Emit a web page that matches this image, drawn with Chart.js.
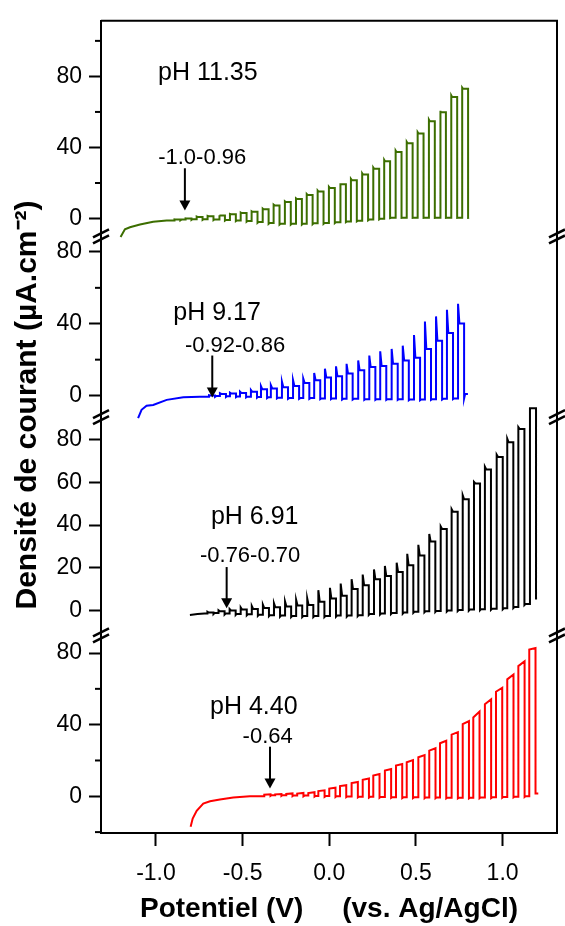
<!DOCTYPE html>
<html>
<head>
<meta charset="utf-8">
<script src="https://cdn.jsdelivr.net/npm/chart.js@4"></script>
<style>
  html, body { margin: 0; padding: 0; background: #fff; }
  canvas { display: block; }
</style>
</head>
<body>
<canvas id="myChart" width="565" height="926"></canvas>
<script>
// chopped-light LSV, potential in V vs Ag/AgCl, current density in uA/cm2
// each trace: dark part first, then one entry per light pulse
// (on = potential where light goes on, peak = spike, plat = value before light off,
//  dip = value right after light off, base = dark value before next pulse)

// pH 11.35
const g_pre_E = [-1.204, -1.179, -1.150, -1.092, -1.016, -0.938];
const g_pre_I = [-10.4, -6.1, -4.9, -3.4, -1.8, -1.1];
const g_on   = [-0.893, -0.829, -0.765, -0.702, -0.636, -0.573, -0.511, -0.448, -0.384, -0.321, -0.256, -0.192, -0.130, -0.067, -0.002, 0.062, 0.125, 0.190, 0.254, 0.317, 0.383, 0.447, 0.510, 0.575, 0.639, 0.704, 0.767];
const g_peak = [-0.5, 0.1, 1.1, 1.5, 1.9, 2.6, 3.4, 4.1, 5.6, 7.8, 9.7, 11.4, 13.8, 15.8, 17.8, 19.9, 22.3, 25.5, 28.7, 33.0, 38.2, 43.2, 48.6, 55.7, 60.7, 69.3, 73.7];
const g_plat = [-0.6, 0.0, 0.9, 1.3, 1.7, 2.4, 3.1, 3.8, 5.2, 7.4, 9.3, 11.0, 13.3, 15.2, 17.2, 19.3, 21.6, 24.8, 28.0, 32.2, 37.4, 42.4, 47.8, 54.8, 59.8, 68.4, 73.0];
const g_dip  = [-1.0, -0.8, -0.8, -0.9, -1.2, -1.5, -1.8, -2.4, -3.0, -3.4, -3.4, -3.4, -3.2, -3.0, -2.6, -2.0, -1.6, -1.0, -0.5, 0.2, 0.4, 0.4, 0.4, 0.4, 0.4, 0.4, 0.4];
const g_base = [-0.6, -0.4, -0.4, -0.5, -0.8, -1.1, -1.4, -1.9, -2.5, -2.9, -2.9, -2.9, -2.7, -2.5, -2.1, -1.6, -1.2, -0.6, -0.1, 0.4, 0.5, 0.5, 0.5, 0.5, 0.5, 0.5, 0.5];
const g_w = 0.034;

// pH 9.17
const b_pre_E = [-1.103, -1.083, -1.054, -1.016, -0.938, -0.842, -0.746];
const b_pre_I = [-12.5, -7.9, -5.7, -5.2, -2.4, -0.9, -0.6];
const b_on   = [-0.694, -0.631, -0.573, -0.515, -0.452, -0.394, -0.337, -0.273, -0.209, -0.150, -0.087, -0.025, 0.039, 0.100, 0.167, 0.231, 0.294, 0.360, 0.424, 0.489, 0.552, 0.616, 0.679, 0.743];
const b_peak = [0.2, 1.3, 1.6, 2.2, 3.1, 5.3, 5.8, 7.7, 8.6, 9.5, 12.6, 15.0, 16.3, 17.7, 19.6, 22.3, 24.7, 26.0, 27.8, 33.7, 41.2, 44.1, 47.8, 51.1];
const b_plat = [0.0, 0.9, 1.1, 1.5, 2.1, 3.5, 4.0, 4.6, 5.3, 7.0, 8.6, 10.1, 10.8, 12.3, 14.1, 15.9, 16.5, 17.7, 19.6, 21.0, 26.0, 30.6, 34.8, 40.1];
const b_dip  = [-0.7, -0.8, -0.9, -1.0, -1.2, -1.4, -1.6, -1.8, -1.8, -1.8, -2.0, -2.0, -2.2, -2.2, -2.4, -2.4, -2.4, -2.4, -2.6, -2.6, -2.4, -2.2, -2.0, -1.6];
const b_base = [-0.3, -0.4, -0.5, -0.6, -0.8, -1.0, -1.2, -1.4, -1.4, -1.4, -1.6, -1.6, -1.8, -1.8, -2.0, -2.0, -2.0, -2.0, -2.2, -2.2, -2.0, -1.8, -1.6, 0.9];
const b_w = 0.035;
const b_end = [0.800, 0.9];

// pH 6.91
const k_pre_E = [-0.804, -0.760, -0.720];
const k_pre_I = [-2.0, -1.6, -1.3];
const k_on   = [-0.703, -0.639, -0.575, -0.511, -0.447, -0.383, -0.319, -0.255, -0.191, -0.127, -0.063, 0.004, 0.066, 0.129, 0.193, 0.258, 0.321, 0.389, 0.450, 0.514, 0.577, 0.643, 0.706, 0.770, 0.835, 0.898, 0.966, 1.027, 1.091, 1.158];
const k_peak = [-0.5, 0.2, 0.8, 1.5, 2.2, 2.8, 3.5, 4.3, 5.0, 5.7, 9.6, 10.7, 12.7, 14.7, 16.9, 19.3, 20.9, 22.4, 26.6, 30.8, 35.9, 39.4, 47.5, 54.0, 60.2, 67.3, 73.0, 80.4, 85.8, 94.7];
const k_plat = [-0.9, -0.3, 0.1, 0.5, 0.8, 1.2, 1.6, 2.0, 2.4, 2.6, 4.2, 5.7, 7.0, 10.1, 11.9, 14.7, 16.2, 18.1, 21.2, 25.8, 32.3, 38.2, 46.3, 52.1, 59.5, 66.0, 71.9, 78.7, 84.9, 94.7];
const k_dip  = [-1.6, -1.8, -2.0, -2.2, -2.4, -2.6, -2.8, -3.0, -3.0, -3.0, -3.0, -2.8, -2.8, -2.6, -2.0, -1.8, -1.6, -1.4, -1.0, -0.8, -0.6, -0.4, -0.2, 0.0, 0.2, 0.4, 0.6, 1.2, 2.6, 5.7];
const k_base = [-1.1, -1.3, -1.5, -1.7, -1.9, -2.1, -2.3, -2.5, -2.5, -2.5, -2.5, -2.3, -2.3, -2.1, -1.5, -1.3, -1.1, -0.9, -0.5, -0.3, -0.1, 0.1, 0.3, 0.5, 0.7, 0.9, 1.1, 1.7, 3.1, 5.7];
const k_w = 0.035;

// pH 4.40
const r_pre_E = [-0.800, -0.788, -0.765, -0.727, -0.688, -0.631, -0.554, -0.458];
const r_pre_I = [-17.0, -12.4, -8.1, -4.1, -2.8, -1.8, -0.7, 0.0];
const r_on   = [-0.375, -0.312, -0.248, -0.185, -0.121, -0.063, 0.000, 0.062, 0.129, 0.193, 0.254, 0.321, 0.385, 0.447, 0.514, 0.577, 0.639, 0.706, 0.770, 0.831, 0.898, 0.962, 1.027, 1.091, 1.154];
const r_peak = [0.9, 1.1, 1.3, 1.5, 1.8, 2.9, 4.3, 5.7, 7.4, 9.2, 11.6, 14.4, 17.2, 19.0, 21.8, 25.5, 29.6, 34.4, 40.3, 44.0, 51.4, 58.4, 65.3, 72.7, 81.9];
const r_plat = [1.1, 1.3, 1.6, 1.9, 2.3, 3.3, 4.8, 6.2, 8.0, 9.9, 12.4, 15.2, 18.0, 20.2, 23.0, 26.8, 31.0, 35.8, 42.0, 47.3, 54.2, 60.6, 68.0, 75.4, 82.8];
const r_dip  = [0.2, 0.2, 0.1, 0.0, -0.2, -0.3, -0.4, -0.5, -0.6, -0.7, -0.8, -0.9, -1.0, -1.0, -1.1, -1.1, -1.2, -1.2, -1.2, -1.1, -1.0, -0.8, -0.6, -0.4, 1.5];
const r_base = [0.6, 0.6, 0.5, 0.4, 0.2, 0.1, 0.0, -0.1, -0.2, -0.3, -0.4, -0.5, -0.6, -0.6, -0.7, -0.7, -0.8, -0.8, -0.8, -0.7, -0.6, -0.4, -0.2, 0.0, 1.5];
const r_w = 0.036;
const r_end = [1.206, 1.5];

// labels and onset arrows
const phLabels    = ['pH 11.35', 'pH 9.17', 'pH 6.91', 'pH 4.40'];
const onsetLabels = ['-1.0-0.96', '-0.92-0.86', '-0.76-0.70', '-0.64'];
const onsetE      = [-0.833, -0.675, -0.592, -0.342];

const FONT = '"Liberation Sans", Arial, sans-serif';

// turn pulse table into the polyline points
function trace(preE, preI, on, peak, plat, dip, base, w, relax, end) {
  const pts = preE.map((e, i) => ({x: e, y: preI[i]}));
  let prev = preI[preI.length - 1];
  for (let i = 0; i < on.length; i++) {
    pts.push({x: on[i], y: prev});
    pts.push({x: on[i], y: peak[i]});
    pts.push({x: on[i] + relax, y: plat[i]});
    pts.push({x: on[i] + w, y: plat[i]});
    pts.push({x: on[i] + w, y: dip[i]});
    pts.push({x: on[i] + w + 0.006, y: base[i]});
    prev = base[i];
  }
  if (end) pts.push({x: end[0], y: end[1]});
  return pts;
}

function ds(data, color, axis) {
  return {data: data, borderColor: color, borderWidth: 2, pointRadius: 0,
          tension: 0, fill: false, clip: false, xAxisID: 'x', yAxisID: axis};
}

function yScale(min, max, h, wt, every) {
  return {
    type: 'linear', position: 'left', stack: 'panels', stackWeight: h, weight: wt,
    min: min, max: max,
    border: {color: '#000', width: 2},
    grid: {drawOnChartArea: false, tickLength: 12, tickWidth: 2,
      tickColor: c => (c.tick && c.tick.value % every === 0) ? '#000' : 'rgba(0,0,0,0)'},
    ticks: {stepSize: 20, autoSkip: false, includeBounds: false, padding: 7, color: '#000',
      font: {family: FONT, size: 23}, callback: v => (v % every === 0 ? v : '')},
    afterFit: s => { s.width = 101; }
  };
}

// frame, axis breaks, minor ticks, y title, labels and arrows
const extras = {
  id: 'extras',
  afterDraw(chart) {
    const ctx = chart.ctx, a = chart.chartArea;
    ctx.save();
    ctx.strokeStyle = '#000';
    ctx.fillStyle = '#000';
    ctx.lineWidth = 2;
    ctx.beginPath();
    ctx.moveTo(a.left, a.top); ctx.lineTo(a.right, a.top); ctx.lineTo(a.right, a.bottom);
    ctx.stroke();

    ['y1', 'y2', 'y4'].forEach(id => {
      const s = chart.scales[id];
      s.ticks.forEach(t => {
        if (t.value % 40 !== 0) {
          const y = s.getPixelForValue(t.value);
          ctx.beginPath(); ctx.moveTo(s.right - 6, y); ctx.lineTo(s.right, y); ctx.stroke();
        }
      });
    });

    ctx.lineWidth = 2.5;
    ['y1', 'y2', 'y3'].forEach(id => {
      const y = chart.scales[id].bottom;
      [a.left, a.right].forEach(x => {
        [-3, 3].forEach(d => {
          ctx.beginPath(); ctx.moveTo(x - 8, y + 4 + d); ctx.lineTo(x + 8, y - 4 + d); ctx.stroke();
        });
      });
    });

    const x = chart.scales.x;
    const axes = ['y1', 'y2', 'y3', 'y4'];
    const phPos = [[-0.988, 81.8], [-0.900, 46.2], [-0.683, 43.6], [-0.688, 49.9]];
    const onPos = [[-0.987, 33.9], [-0.833, 27.8], [-0.746, 25.5], [-0.500, 32.9]];
    const arrowY = [[28.3, 4.5], [22.3, -1.1], [20.4, 1.1], [27.7, 4.3]];
    ctx.textAlign = 'left';
    ctx.textBaseline = 'middle';
    axes.forEach((id, i) => {
      const s = chart.scales[id];
      ctx.font = '25px ' + FONT;
      ctx.fillText(phLabels[i], x.getPixelForValue(phPos[i][0]), s.getPixelForValue(phPos[i][1]));
      ctx.font = '22px ' + FONT;
      ctx.fillText(onsetLabels[i], x.getPixelForValue(onPos[i][0]), s.getPixelForValue(onPos[i][1]));
      const ax = x.getPixelForValue(onsetE[i]);
      const y0 = s.getPixelForValue(arrowY[i][0]);
      const y1 = s.getPixelForValue(arrowY[i][1]);
      ctx.lineWidth = 2;
      ctx.beginPath(); ctx.moveTo(ax, y0); ctx.lineTo(ax, y1 - 9); ctx.stroke();
      ctx.beginPath(); ctx.moveTo(ax - 5.5, y1 - 10); ctx.lineTo(ax + 5.5, y1 - 10); ctx.lineTo(ax, y1); ctx.closePath(); ctx.fill();
    });

    ctx.translate(36, 405);
    ctx.rotate(-Math.PI / 2);
    ctx.textAlign = 'center';
    ctx.textBaseline = 'alphabetic';
    ctx.font = 'bold 30px ' + FONT;
    ctx.fillText('Densité de courant (µA.cm⁻²)', 0, 0);
    ctx.restore();
  }
};

const config = {
  type: 'line',
  data: {
    datasets: [
      ds(trace(g_pre_E, g_pre_I, g_on, g_peak, g_plat, g_dip, g_base, g_w, 0.005, null), '#3c6e00', 'y1'),
      ds(trace(b_pre_E, b_pre_I, b_on, b_peak, b_plat, b_dip, b_base, b_w, 0.008, b_end), '#0000ff', 'y2'),
      ds(trace(k_pre_E, k_pre_I, k_on, k_peak, k_plat, k_dip, k_base, k_w, 0.008, null), '#000000', 'y3'),
      ds(trace(r_pre_E, r_pre_I, r_on, r_peak, r_plat, r_dip, r_base, r_w, r_w, r_end), '#ff0000', 'y4')
    ]
  },
  options: {
    responsive: false,
    animation: false,
    devicePixelRatio: 1,
    layout: {padding: {top: 15, right: 8, left: 0, bottom: 0}},
    plugins: {legend: {display: false}, tooltip: {enabled: false}},
    scales: {
      x: {
        type: 'linear', position: 'bottom', min: -1.317, max: 1.314,
        border: {color: '#000', width: 2},
        grid: {drawOnChartArea: false, tickLength: 13, tickWidth: 2, tickColor: '#000'},
        ticks: {stepSize: 0.5, includeBounds: false, autoSkip: false, maxRotation: 0, padding: 14,
          color: '#000', font: {family: FONT, size: 23}, callback: v => v.toFixed(1)},
        title: {display: true, text: 'Potentiel (V)     (vs. Ag/AgCl)', color: '#000',
          font: {family: FONT, size: 28, weight: 'bold'}, padding: {top: 0, bottom: 0}},
        afterFit: s => { s.height = 93; }
      },
      y1: yScale(-10.1, 111.3, 217.3, 4, 40),
      y2: yScale(-12.0, 88.6, 182, 3, 40),
      y3: yScale(-11.6, 90.5, 220, 2, 20),
      y4: yScale(-20.5, 89.8, 199, 1, 40)
    }
  },
  plugins: [extras]
};

const myChart = new Chart(document.getElementById('myChart'), config);
</script>
</body>
</html>
